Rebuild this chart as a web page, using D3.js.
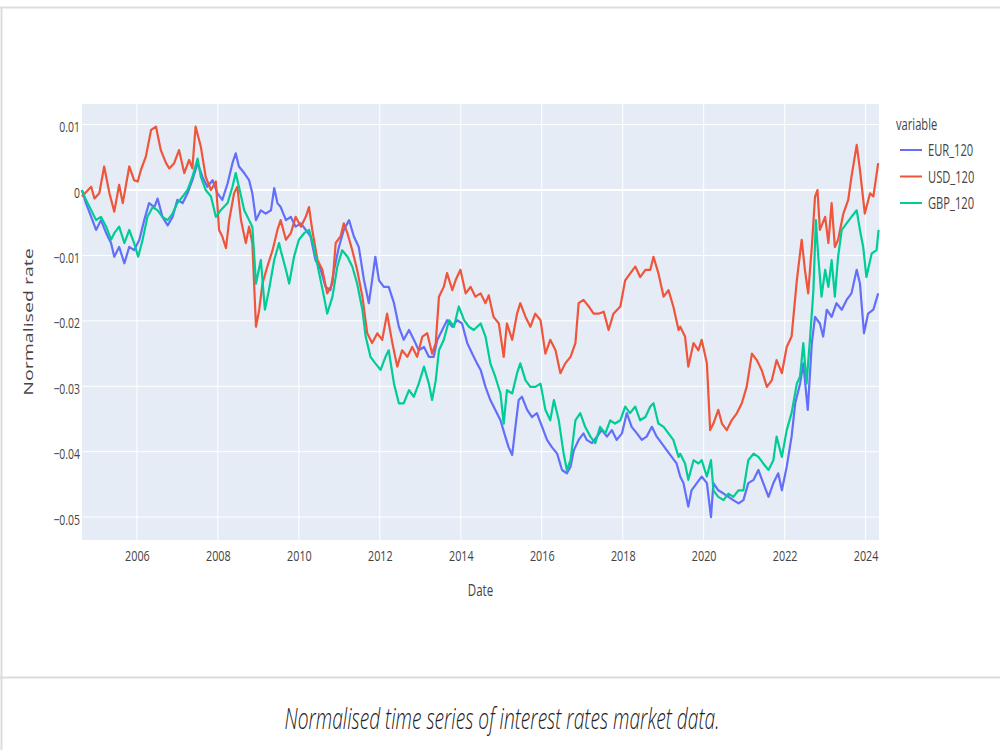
<!DOCTYPE html>
<html>
<head>
<meta charset="utf-8">
<script src="https://cdn.jsdelivr.net/npm/d3@7"></script>
<style>
  body { margin: 0; background: #ffffff; }
  svg { display: block; }
</style>
</head>
<body>
<svg id="chart" width="1000" height="750"></svg>
<script>
// ---------------- DATA ----------------
const seriesNames  = ["EUR_120", "USD_120", "GBP_120"];
const seriesColors = ["#636efa", "#EF553B", "#00cc96"];
const xTickYears   = [2006, 2008, 2010, 2012, 2014, 2016, 2018, 2020, 2022, 2024];
const yTickValues  = [0.01, 0, -0.01, -0.02, -0.03, -0.04, -0.05];
const yTickLabels  = ["0.01", "0", "\u22120.01", "\u22120.02", "\u22120.03", "\u22120.04", "\u22120.05"];
const xTitle = "Date";
const yTitle = "Normalised rate";
const legendTitle = "variable";
const caption = "Normalised time series of interest rates market data.";

// [decimal year, normalised rate]
const EUR_120 = [
[2004.64,0.0000],[2004.74,-0.0020],[2004.87,-0.0041],[2004.99,-0.0061],[2005.11,-0.0046],[2005.24,-0.0066],
[2005.36,-0.0081],[2005.44,-0.0102],[2005.56,-0.0087],[2005.69,-0.0112],[2005.81,-0.0087],[2005.93,-0.0092],
[2006.06,-0.0076],[2006.18,-0.0046],[2006.30,-0.0020],[2006.43,-0.0026],[2006.51,-0.0013],[2006.63,-0.0041],
[2006.76,-0.0054],[2006.88,-0.0041],[2007.00,-0.0015],[2007.13,-0.0020],[2007.25,-0.0005],[2007.37,0.0015],
[2007.50,0.0041],[2007.62,0.0020],[2007.74,0.0005],[2007.87,0.0015],[2007.99,-0.0005],[2008.11,-0.0015],
[2008.24,0.0010],[2008.36,0.0041],[2008.44,0.0056],[2008.52,0.0036],[2008.65,0.0026],[2008.77,0.0015],
[2008.85,-0.0005],[2008.94,-0.0046],[2009.06,-0.0031],[2009.18,-0.0036],[2009.31,-0.0031],[2009.39,0.0003],
[2009.47,-0.0020],[2009.55,-0.0026],[2009.68,-0.0046],[2009.80,-0.0041],[2009.92,-0.0056],[2010.05,-0.0051],
[2010.17,-0.0061],[2010.29,-0.0071],[2010.41,-0.0107],[2010.54,-0.0122],[2010.66,-0.0148],[2010.78,-0.0153],
[2010.87,-0.0122],[2010.99,-0.0087],[2011.11,-0.0061],[2011.24,-0.0046],[2011.36,-0.0071],[2011.48,-0.0087],
[2011.61,-0.0138],[2011.73,-0.0173],[2011.81,-0.0138],[2011.89,-0.0102],[2011.98,-0.0138],[2012.10,-0.0148],
[2012.22,-0.0148],[2012.35,-0.0173],[2012.47,-0.0209],[2012.59,-0.0229],[2012.72,-0.0214],[2012.84,-0.0229],
[2012.96,-0.0245],[2013.09,-0.0240],[2013.21,-0.0255],[2013.33,-0.0255],[2013.42,-0.0229],[2013.54,-0.0214],
[2013.66,-0.0199],[2013.79,-0.0209],[2013.91,-0.0199],[2014.03,-0.0204],[2014.16,-0.0234],[2014.28,-0.0250],
[2014.40,-0.0265],[2014.49,-0.0275],[2014.61,-0.0301],[2014.73,-0.0321],[2014.85,-0.0336],[2014.98,-0.0352],
[2015.10,-0.0377],[2015.18,-0.0393],[2015.27,-0.0405],[2015.35,-0.0362],[2015.43,-0.0321],[2015.51,-0.0316],
[2015.64,-0.0336],[2015.76,-0.0347],[2015.88,-0.0341],[2016.01,-0.0362],[2016.13,-0.0382],[2016.25,-0.0393],
[2016.38,-0.0403],[2016.50,-0.0428],[2016.62,-0.0433],[2016.71,-0.0423],[2016.79,-0.0398],[2016.91,-0.0382],
[2017.03,-0.0372],[2017.11,-0.0382],[2017.24,-0.0387],[2017.36,-0.0377],[2017.48,-0.0367],[2017.61,-0.0377],
[2017.73,-0.0367],[2017.85,-0.0382],[2017.98,-0.0372],[2018.10,-0.0341],[2018.22,-0.0362],[2018.35,-0.0372],
[2018.47,-0.0382],[2018.59,-0.0377],[2018.72,-0.0362],[2018.84,-0.0377],[2018.96,-0.0387],[2019.09,-0.0398],
[2019.21,-0.0408],[2019.33,-0.0418],[2019.42,-0.0438],[2019.50,-0.0448],[2019.62,-0.0484],[2019.70,-0.0459],
[2019.83,-0.0448],[2019.95,-0.0438],[2020.08,-0.0448],[2020.18,-0.0500],[2020.24,-0.0448],[2020.36,-0.0459],
[2020.49,-0.0464],[2020.61,-0.0469],[2020.73,-0.0474],[2020.86,-0.0479],[2020.98,-0.0474],[2021.10,-0.0448],
[2021.23,-0.0443],[2021.35,-0.0428],[2021.47,-0.0448],[2021.60,-0.0469],[2021.72,-0.0448],[2021.84,-0.0433],
[2021.93,-0.0459],[2022.05,-0.0423],[2022.17,-0.0377],[2022.26,-0.0326],[2022.38,-0.0296],[2022.46,-0.0265],
[2022.57,-0.0336],[2022.67,-0.0234],[2022.75,-0.0194],[2022.87,-0.0204],[2022.95,-0.0224],[2023.04,-0.0183],
[2023.16,-0.0194],[2023.28,-0.0173],[2023.41,-0.0183],[2023.53,-0.0168],[2023.65,-0.0158],[2023.78,-0.0122],
[2023.86,-0.0143],[2023.96,-0.0219],[2024.06,-0.0189],[2024.19,-0.0183],[2024.31,-0.0158]
];

const USD_120 = [
[2004.64,-0.0010],[2004.87,0.0005],[2004.95,-0.0013],[2005.07,-0.0005],[2005.19,0.0036],[2005.32,-0.0005],
[2005.44,-0.0033],[2005.56,0.0008],[2005.65,-0.0020],[2005.81,0.0036],[2005.93,0.0015],[2006.02,0.0013],
[2006.10,0.0031],[2006.22,0.0051],[2006.35,0.0092],[2006.47,0.0097],[2006.59,0.0061],[2006.72,0.0041],
[2006.80,0.0033],[2006.92,0.0041],[2007.04,0.0061],[2007.17,0.0026],[2007.29,0.0046],[2007.37,0.0033],
[2007.45,0.0097],[2007.58,0.0066],[2007.70,0.0020],[2007.83,0.0000],[2007.95,0.0013],[2008.03,-0.0061],
[2008.11,-0.0071],[2008.20,-0.0089],[2008.28,-0.0046],[2008.40,-0.0005],[2008.48,0.0005],[2008.57,-0.0046],
[2008.69,-0.0081],[2008.77,-0.0056],[2008.85,-0.0081],[2008.94,-0.0209],[2009.02,-0.0183],[2009.10,-0.0143],
[2009.22,-0.0117],[2009.35,-0.0092],[2009.47,-0.0061],[2009.55,-0.0046],[2009.68,-0.0076],[2009.80,-0.0066],
[2009.92,-0.0041],[2010.05,-0.0056],[2010.17,-0.0041],[2010.25,-0.0026],[2010.33,-0.0061],[2010.46,-0.0107],
[2010.58,-0.0122],[2010.70,-0.0158],[2010.83,-0.0143],[2010.91,-0.0081],[2011.03,-0.0071],[2011.11,-0.0051],
[2011.20,-0.0066],[2011.32,-0.0092],[2011.44,-0.0122],[2011.57,-0.0163],[2011.69,-0.0219],[2011.81,-0.0234],
[2011.94,-0.0219],[2012.06,-0.0229],[2012.18,-0.0189],[2012.31,-0.0234],[2012.43,-0.0270],[2012.55,-0.0245],
[2012.68,-0.0255],[2012.80,-0.0240],[2012.92,-0.0255],[2013.05,-0.0224],[2013.17,-0.0219],[2013.29,-0.0250],
[2013.38,-0.0234],[2013.46,-0.0163],[2013.58,-0.0148],[2013.66,-0.0127],[2013.79,-0.0153],[2013.87,-0.0138],
[2013.99,-0.0122],[2014.12,-0.0158],[2014.24,-0.0148],[2014.36,-0.0163],[2014.49,-0.0158],[2014.61,-0.0173],
[2014.69,-0.0161],[2014.81,-0.0194],[2014.94,-0.0204],[2015.06,-0.0255],[2015.14,-0.0204],[2015.27,-0.0229],
[2015.39,-0.0189],[2015.47,-0.0173],[2015.60,-0.0194],[2015.72,-0.0209],[2015.84,-0.0189],[2015.97,-0.0199],
[2016.09,-0.0250],[2016.21,-0.0229],[2016.34,-0.0245],[2016.46,-0.0280],[2016.58,-0.0265],[2016.71,-0.0255],
[2016.83,-0.0234],[2016.91,-0.0173],[2017.03,-0.0168],[2017.16,-0.0178],[2017.28,-0.0189],[2017.40,-0.0189],
[2017.53,-0.0186],[2017.65,-0.0214],[2017.77,-0.0189],[2017.94,-0.0178],[2018.06,-0.0138],[2018.19,-0.0127],
[2018.31,-0.0117],[2018.43,-0.0133],[2018.56,-0.0122],[2018.68,-0.0122],[2018.76,-0.0102],[2018.88,-0.0127],
[2019.01,-0.0163],[2019.13,-0.0153],[2019.25,-0.0178],[2019.38,-0.0214],[2019.42,-0.0209],[2019.54,-0.0224],
[2019.62,-0.0270],[2019.75,-0.0234],[2019.87,-0.0245],[2019.95,-0.0229],[2020.08,-0.0265],[2020.16,-0.0367],
[2020.24,-0.0357],[2020.36,-0.0336],[2020.45,-0.0357],[2020.57,-0.0367],[2020.69,-0.0352],[2020.82,-0.0341],
[2020.94,-0.0326],[2021.06,-0.0301],[2021.19,-0.0250],[2021.31,-0.0260],[2021.43,-0.0275],[2021.56,-0.0301],
[2021.68,-0.0291],[2021.80,-0.0260],[2021.93,-0.0280],[2022.05,-0.0240],[2022.17,-0.0224],[2022.30,-0.0138],
[2022.42,-0.0076],[2022.50,-0.0122],[2022.58,-0.0158],[2022.67,-0.0087],[2022.75,-0.0010],[2022.81,0.0000],
[2022.87,-0.0061],[2023.00,-0.0041],[2023.08,-0.0081],[2023.16,-0.0020],[2023.24,-0.0087],[2023.32,-0.0076],
[2023.45,-0.0036],[2023.57,-0.0015],[2023.65,0.0020],[2023.78,0.0069],[2023.86,0.0031],[2023.98,-0.0036],
[2024.11,-0.0005],[2024.19,-0.0010],[2024.31,0.0041]
];

const GBP_120 = [
[2004.64,0.0000],[2004.74,-0.0015],[2004.87,-0.0031],[2004.99,-0.0046],[2005.11,-0.0041],[2005.24,-0.0056],
[2005.36,-0.0076],[2005.44,-0.0066],[2005.56,-0.0056],[2005.69,-0.0081],[2005.81,-0.0061],[2005.93,-0.0081],
[2006.03,-0.0102],[2006.14,-0.0076],[2006.26,-0.0041],[2006.39,-0.0026],[2006.51,-0.0031],[2006.63,-0.0041],
[2006.76,-0.0046],[2006.88,-0.0036],[2007.00,-0.0020],[2007.13,-0.0010],[2007.25,0.0000],[2007.37,0.0020],
[2007.50,0.0048],[2007.58,0.0020],[2007.70,0.0000],[2007.83,-0.0010],[2007.95,-0.0041],[2008.07,-0.0031],
[2008.24,-0.0020],[2008.36,0.0005],[2008.44,0.0026],[2008.52,0.0005],[2008.65,-0.0031],[2008.77,-0.0046],
[2008.85,-0.0056],[2008.94,-0.0143],[2009.06,-0.0107],[2009.16,-0.0183],[2009.26,-0.0153],[2009.39,-0.0107],
[2009.51,-0.0081],[2009.55,-0.0092],[2009.68,-0.0122],[2009.76,-0.0143],[2009.88,-0.0102],[2010.00,-0.0076],
[2010.13,-0.0066],[2010.25,-0.0061],[2010.37,-0.0087],[2010.50,-0.0127],[2010.62,-0.0163],[2010.70,-0.0189],
[2010.83,-0.0163],[2010.95,-0.0117],[2011.07,-0.0092],[2011.20,-0.0102],[2011.32,-0.0117],[2011.44,-0.0143],
[2011.57,-0.0183],[2011.65,-0.0224],[2011.77,-0.0255],[2011.89,-0.0265],[2012.02,-0.0275],[2012.14,-0.0255],
[2012.22,-0.0245],[2012.35,-0.0296],[2012.47,-0.0326],[2012.59,-0.0326],[2012.72,-0.0306],[2012.84,-0.0316],
[2012.96,-0.0296],[2013.09,-0.0270],[2013.21,-0.0296],[2013.29,-0.0321],[2013.38,-0.0291],[2013.46,-0.0245],
[2013.58,-0.0229],[2013.71,-0.0199],[2013.83,-0.0209],[2013.95,-0.0178],[2014.08,-0.0199],[2014.20,-0.0209],
[2014.32,-0.0214],[2014.49,-0.0204],[2014.61,-0.0224],[2014.73,-0.0265],[2014.85,-0.0285],[2014.98,-0.0311],
[2015.06,-0.0357],[2015.14,-0.0306],[2015.27,-0.0311],[2015.39,-0.0280],[2015.47,-0.0265],[2015.60,-0.0291],
[2015.72,-0.0301],[2015.84,-0.0301],[2015.97,-0.0296],[2016.09,-0.0336],[2016.21,-0.0352],[2016.30,-0.0321],
[2016.42,-0.0352],[2016.54,-0.0403],[2016.62,-0.0428],[2016.71,-0.0413],[2016.83,-0.0352],[2016.95,-0.0341],
[2017.07,-0.0362],[2017.20,-0.0377],[2017.32,-0.0387],[2017.44,-0.0362],[2017.57,-0.0372],[2017.69,-0.0352],
[2017.81,-0.0357],[2017.94,-0.0352],[2018.06,-0.0331],[2018.18,-0.0341],[2018.31,-0.0331],[2018.43,-0.0352],
[2018.56,-0.0347],[2018.68,-0.0331],[2018.76,-0.0326],[2018.88,-0.0357],[2019.01,-0.0362],[2019.13,-0.0372],
[2019.25,-0.0382],[2019.38,-0.0408],[2019.42,-0.0403],[2019.54,-0.0418],[2019.62,-0.0443],[2019.75,-0.0413],
[2019.87,-0.0418],[2019.95,-0.0413],[2020.08,-0.0438],[2020.18,-0.0413],[2020.24,-0.0459],[2020.36,-0.0469],
[2020.49,-0.0474],[2020.61,-0.0464],[2020.73,-0.0469],[2020.86,-0.0459],[2020.98,-0.0459],[2021.10,-0.0413],
[2021.23,-0.0403],[2021.35,-0.0408],[2021.47,-0.0418],[2021.60,-0.0428],[2021.72,-0.0413],[2021.80,-0.0377],
[2021.93,-0.0408],[2022.05,-0.0367],[2022.17,-0.0341],[2022.30,-0.0296],[2022.38,-0.0285],[2022.46,-0.0234],
[2022.54,-0.0296],[2022.63,-0.0224],[2022.71,-0.0153],[2022.77,-0.0046],[2022.83,-0.0102],[2022.91,-0.0163],
[2023.00,-0.0122],[2023.08,-0.0148],[2023.16,-0.0107],[2023.24,-0.0163],[2023.32,-0.0102],[2023.41,-0.0061],
[2023.53,-0.0051],[2023.65,-0.0041],[2023.78,-0.0031],[2023.86,-0.0061],[2023.94,-0.0087],[2024.02,-0.0133],
[2024.15,-0.0097],[2024.27,-0.0092],[2024.32,-0.0061]
];

const seriesData = [EUR_120, USD_120, GBP_120];
const xDomainYears = [2004.643, 2024.33];
const yDomain = [-0.0535, 0.01315];

// ---------------- HELPERS ----------------
function yearToDate(v) {
  const yr = Math.floor(v);
  const s = new Date(yr, 0, 1), e = new Date(yr + 1, 0, 1);
  return new Date(+s + (v - yr) * (e - s));
}

// ---------------- LAYOUT ----------------
const svg = d3.select("#chart");
const P = { left: 82, right: 879, top: 104, bottom: 540 };
const FONT = "'Open Sans', 'Noto Sans', Arial, sans-serif";
const TXT = "#444444";
const SX = 0.72; // horizontal squeeze to match the reference's tall, narrow text

const x = d3.scaleTime().domain(xDomainYears.map(yearToDate)).range([P.left, P.right]);
const y = d3.scaleLinear().domain(yDomain).range([P.bottom, P.top]);

// page frame
svg.append("rect").attr("x", 0).attr("y", 0).attr("width", 1000).attr("height", 750).attr("fill", "#ffffff");
svg.append("line").attr("x1", 0).attr("x2", 1000).attr("y1", 7.5).attr("y2", 7.5).attr("stroke", "#d9dde2").attr("stroke-width", 2);
svg.append("line").attr("x1", 1.5).attr("x2", 1.5).attr("y1", 7).attr("y2", 750).attr("stroke", "#d9dde2").attr("stroke-width", 2);
svg.append("line").attr("x1", 0).attr("x2", 1000).attr("y1", 677.5).attr("y2", 677.5).attr("stroke", "#d9dde2").attr("stroke-width", 2);

// plot background
svg.append("rect").attr("x", P.left).attr("y", P.top)
  .attr("width", P.right - P.left).attr("height", P.bottom - P.top).attr("fill", "#E5ECF6");

// grid
const xTicks = xTickYears.map(yr => new Date(yr, 0, 1));
svg.append("g").selectAll("line").data(xTicks).join("line")
  .attr("x1", d => x(d)).attr("x2", d => x(d)).attr("y1", P.top).attr("y2", P.bottom)
  .attr("stroke", "#ffffff").attr("stroke-width", 1);
svg.append("g").selectAll("line").data(yTickValues).join("line")
  .attr("x1", P.left).attr("x2", P.right).attr("y1", d => y(d)).attr("y2", d => y(d))
  .attr("stroke", "#ffffff").attr("stroke-width", d => d === 0 ? 2 : 1);

// axes (labels only)
const xAxis = d3.axisBottom(x).tickValues(xTicks).tickFormat(d3.timeFormat("%Y")).tickSize(0).tickPadding(0);
const gx = svg.append("g").attr("transform", `translate(0,${P.bottom})`).call(xAxis);
gx.select(".domain").remove();
gx.selectAll("text")
  .attr("y", 0).attr("dy", null)
  .attr("transform", `translate(0,21) scale(${SX},1)`)
  .attr("font-family", FONT).attr("font-size", 15).attr("fill", TXT);

const yAxis = d3.axisLeft(y).tickValues(yTickValues).tickFormat((d, i) => yTickLabels[i]).tickSize(0).tickPadding(0);
const gy = svg.append("g").attr("transform", `translate(${P.left - 2},0)`).call(yAxis);
gy.select(".domain").remove();
gy.selectAll("text")
  .attr("x", 0).attr("dy", null)
  .attr("transform", `translate(0,7) scale(${SX},1)`)
  .attr("font-family", FONT).attr("font-size", 14.5).attr("fill", TXT);

// axis titles
svg.append("text").text(xTitle)
  .attr("transform", `translate(${(P.left + P.right) / 2},596) scale(${SX},1)`)
  .attr("text-anchor", "middle").attr("font-family", FONT).attr("font-size", 16).attr("fill", TXT);
svg.append("text").text(yTitle)
  .attr("transform", `translate(33,${(P.top + P.bottom) / 2}) rotate(-90) scale(1.45,1)`)
  .attr("text-anchor", "middle").attr("font-family", FONT).attr("font-size", 13.5).attr("fill", TXT);

// lines
const line = d3.line().x(d => x(yearToDate(d[0]))).y(d => y(d[1]));
svg.append("g").selectAll("path").data(seriesData).join("path")
  .attr("d", d => line(d))
  .attr("fill", "none")
  .attr("stroke", (d, i) => seriesColors[i])
  .attr("stroke-width", 2.2)
  .attr("stroke-linejoin", "round");

// legend
const lg = svg.append("g");
lg.append("text").text(legendTitle)
  .attr("transform", `translate(896,130) scale(${SX},1)`)
  .attr("font-family", FONT).attr("font-size", 15.5).attr("fill", TXT);
seriesNames.forEach((name, i) => {
  const ly = 150 + i * 26.5;
  lg.append("line").attr("x1", 900).attr("x2", 922).attr("y1", ly).attr("y2", ly)
    .attr("stroke", seriesColors[i]).attr("stroke-width", 2);
  lg.append("text").text(name)
    .attr("transform", `translate(928,${ly + 6}) scale(${SX},1)`)
    .attr("font-family", FONT).attr("font-size", 15.5).attr("fill", TXT);
});

// caption
svg.append("text").text(caption)
  .attr("x", 502).attr("y", 729)
  .attr("text-anchor", "middle")
  .attr("textLength", 435).attr("lengthAdjust", "spacingAndGlyphs")
  .attr("font-family", FONT).attr("font-style", "italic").attr("font-weight", 300)
  .attr("font-size", 30).attr("fill", "#222222");
</script>
</body>
</html>
